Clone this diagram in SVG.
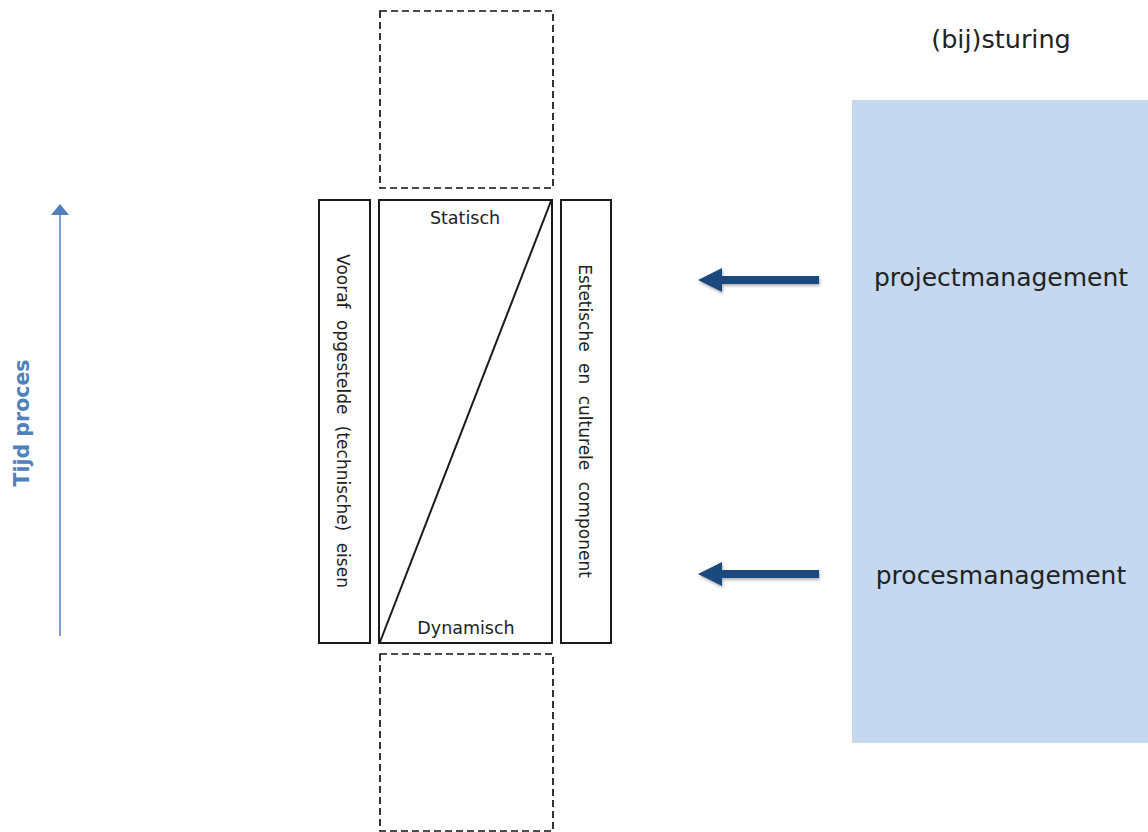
<svg xmlns="http://www.w3.org/2000/svg" width="1148" height="832" viewBox="0 0 1148 832">
  <defs>
    <style>
      .t { font-family: "DejaVu Sans", Verdana, sans-serif; fill: #222; }
      .box { fill: none; stroke: #1a1a1a; stroke-width: 2; }
      .dash { fill: none; stroke: #111; stroke-width: 1.7; stroke-dasharray: 7 4; }
      .steer { fill: #1F497D; }
    </style>
    <filter id="shadow" x="-10%" y="-50%" width="130%" height="200%">
      <feDropShadow dx="1" dy="2" stdDeviation="1.5" flood-color="#000" flood-opacity="0.3"/>
    </filter>
  </defs>
  <rect width="1148" height="832" fill="#fff"/>

  <g id="panel-bijsturing">
    <rect x="852" y="100" width="296" height="643" fill="#C6D8F0"/>
    <text class="t" x="1001" y="48" font-size="25.5" text-anchor="middle">(bij)sturing</text>
    <text class="t" x="1001" y="286" font-size="25" text-anchor="middle">projectmanagement</text>
    <text class="t" x="1001" y="584" font-size="25" text-anchor="middle">procesmanagement</text>
  </g>

  <g id="box-top-dashed">
    <rect class="dash" x="380" y="11" width="173" height="177"/>
  </g>
  <g id="box-bottom-dashed">
    <rect class="dash" x="380" y="654" width="173" height="177"/>
  </g>

  <g id="box-eisen">
    <rect class="box" x="319" y="200" width="51" height="443"/>
    <text class="t" transform="translate(337,421) rotate(90)" font-size="17" text-anchor="middle" word-spacing="6">Vooraf opgestelde (technische) eisen</text>
  </g>

  <g id="box-statisch-dynamisch">
    <rect class="box" x="379" y="200" width="173" height="443"/>
    <line x1="380" y1="642" x2="551" y2="201" stroke="#1a1a1a" stroke-width="2"/>
    <text class="t" x="465" y="224" font-size="17.5" text-anchor="middle">Statisch</text>
    <text class="t" x="466" y="634" font-size="17.5" text-anchor="middle">Dynamisch</text>
  </g>

  <g id="box-estetisch">
    <rect class="box" x="561" y="200" width="50" height="443"/>
    <text class="t" transform="translate(579,421) rotate(90)" font-size="17" text-anchor="middle" word-spacing="6">Estetische en culturele component</text>
  </g>

  <g id="axis-tijd">
    <text transform="translate(29,423) rotate(-90)" font-family="'DejaVu Sans', Verdana, sans-serif" font-weight="bold" font-size="20.5" fill="#4F81BD" text-anchor="middle">Tijd proces</text>
  </g>

  <g id="connectors">
    <line x1="60" y1="636" x2="60" y2="213" stroke="#4F81BD" stroke-width="1.5"/>
    <polygon points="51,215 60,204 69,215" fill="#4F81BD"/>
    <path class="steer" filter="url(#shadow)" d="M819,276 L722,276 L722,268 L698,280 L722,292 L722,284 L819,284 Z"/>
    <path class="steer" filter="url(#shadow)" d="M819,570 L722,570 L722,562 L698,574 L722,586 L722,578 L819,578 Z"/>
  </g>
</svg>
